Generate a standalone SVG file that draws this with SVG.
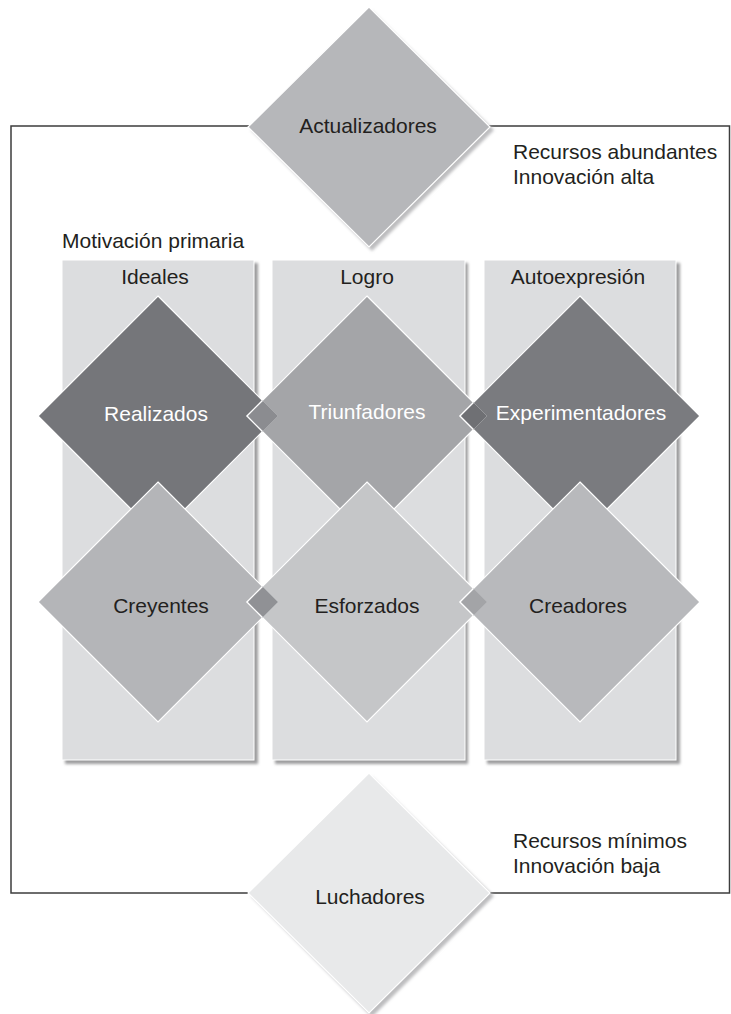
<svg xmlns="http://www.w3.org/2000/svg" width="731" height="1014" viewBox="0 0 731 1014">
<defs>
<filter id="sh" x="-10%" y="-10%" width="130%" height="130%"><feGaussianBlur stdDeviation="1.4"/></filter>
<style>
text{font-family:"Liberation Sans",Arial,sans-serif;font-size:21px;fill:#231f20}
.w{fill:#ffffff}
.c{text-anchor:middle}
.col{fill:#dcdddf;stroke:#ffffff;stroke-width:1}
.colsh{fill:#9c9c9e;filter:url(#sh)}
.dsh{fill:#bdbdbf;filter:url(#sh)}
.d{stroke:#ffffff;stroke-width:1.2}
.edge{fill:none;stroke:#ffffff;stroke-width:1.2}
.edge2{fill:none;stroke:#b8b9bc;stroke-width:0.8;opacity:0.6}
</style>
</defs>
<rect width="731" height="1014" fill="#ffffff"/>
<g id="frame">
<rect x="11" y="126" width="718.5" height="767" fill="none" stroke="#3d3d3d" stroke-width="1.5"/>
</g>
<g id="connectors"/>
<g id="labels-right">
<text x="513" y="159">Recursos abundantes</text>
<text x="513" y="184">Innovación alta</text>
<text x="513" y="848">Recursos mínimos</text>
<text x="513" y="873">Innovación baja</text>
<text x="62" y="248">Motivación primaria</text>
</g>
<g id="columns">
<rect class="colsh" x="65" y="263" width="193" height="501"/>
<rect class="colsh" x="275" y="263" width="193" height="501"/>
<rect class="colsh" x="487" y="263" width="193" height="501"/>
<rect class="col" x="62" y="260" width="192" height="500"/>
<rect class="col" x="272" y="260" width="193" height="500"/>
<rect class="col" x="484" y="260" width="192" height="500"/>
<text class="c" x="155" y="284">Ideales</text>
<text class="c" x="367" y="284">Logro</text>
<text class="c" x="578" y="284">Autoexpresión</text>
</g>
<g id="actualizadores">
<polygon class="dsh" points="372,11 494,130 372,251 251,130"/>
<polygon class="d" fill="#b6b7ba" points="369,7 490,127 369,247 248,127"/>
<text class="c" x="368" y="133">Actualizadores</text>
</g>
<g id="luchadores">
<polygon class="dsh" points="372,777 494,896 372,1017 251,896"/>
<polygon class="d" fill="#e8e9ea" points="369,773 490,893 369,1013 248,893"/>
<text class="c" x="370" y="904">Luchadores</text>
</g>
<g id="realizados">
<polygon class="d" fill="#75767a" points="158,296 278,416 158,536 38,416"/>
<text class="c w" x="156" y="421">Realizados</text>
</g>
<g id="triunfadores">
<polygon class="d" fill="#a4a5a8" points="367,296 487,416 367,536 247,416"/>
<text class="c w" x="367" y="419">Triunfadores</text>
</g>
<g id="experimentadores">
<polygon class="d" fill="#7a7b7f" points="580,296 700,416 580,536 460,416"/>
<text class="c w" x="581" y="420">Experimentadores</text>
</g>
<g id="overlaps-top">
<polygon fill="#8b8c90" points="262.5,400.5 278,416 262.5,431.5 247,416"/>
<polyline class="edge" points="262.5,400.5 247,416 262.5,431.5"/>
<polyline class="edge2" points="262.5,400.5 278,416 262.5,431.5"/>
<polygon fill="#6f7074" points="473.5,402.5 487,416 473.5,429.5 460,416"/>
<polyline class="edge" points="473.5,402.5 460,416 473.5,429.5"/>
<polyline class="edge2" points="473.5,402.5 487,416 473.5,429.5"/>
</g>
<g id="creyentes">
<polygon class="d" fill="#b4b5b8" points="158,482 278,602 158,722 38,602"/>
<text class="c" x="161" y="613">Creyentes</text>
</g>
<g id="esforzados">
<polygon class="d" fill="#c5c6c8" points="367,482 487,602 367,722 247,602"/>
<text class="c" x="367" y="613">Esforzados</text>
</g>
<g id="creadores">
<polygon class="d" fill="#b8b9bc" points="580,482 700,602 580,722 460,602"/>
<text class="c" x="578" y="613">Creadores</text>
</g>
<g id="overlaps-bottom">
<polygon fill="#909195" points="262.5,586.5 278,602 262.5,617.5 247,602"/>
<polyline class="edge" points="262.5,586.5 247,602 262.5,617.5"/>
<polyline class="edge2" points="262.5,586.5 278,602 262.5,617.5"/>
<polygon fill="#a3a4a7" points="473.5,588.5 487,602 473.5,615.5 460,602"/>
<polyline class="edge" points="473.5,588.5 460,602 473.5,615.5"/>
<polyline class="edge2" points="473.5,588.5 487,602 473.5,615.5"/>
</g>
</svg>
